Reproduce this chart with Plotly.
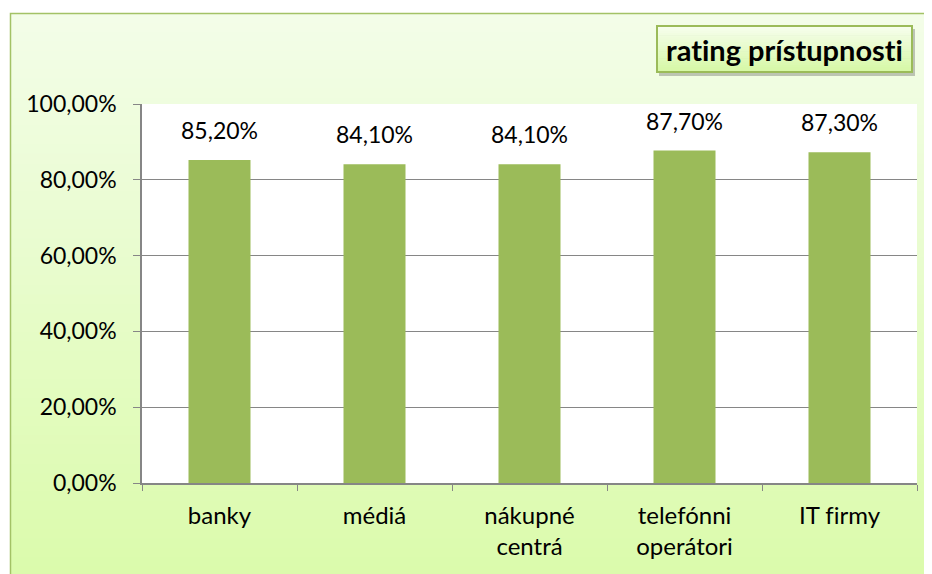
import plotly.graph_objects as go

categories = ["banky", "médiá", "nákupné<br>centrá", "telefónni<br>operátori", "IT firmy"]
values = [0.852, 0.841, 0.841, 0.877, 0.873]
y_ticks = [0, 0.2, 0.4, 0.6, 0.8, 1.0]
title_text = "rating prístupnosti"

ZWNJ = "\u200c"  # prevents font ligatures (fi, ti) so glyphs render separately


def no_liga(s):
    return s.replace("fi", "f" + ZWNJ + "i").replace("ti", "t" + ZWNJ + "i")


OFF = 8  # browser body margin
W, H = 932 - OFF, 574 - OFF
L, R, T, B = 142 - OFF, 15, 104 - OFF, 91
pw, ph = W - L - R, H - T - B

def px_x(x):
    return (x - OFF - L) / pw

def px_y(y):
    return (H - B - (y - OFF)) / ph

def mix(c1, c2, t):
    return "rgb(%d,%d,%d)" % tuple(round(a + (b - a) * t) for a, b in zip(c1, c2))

shapes = []
# gradient chart background
top_c, bot_c = (243, 253, 232), (219, 251, 172)
n = 60
y0p, y1p = 13, 576
for i in range(n):
    ya = y0p + (y1p - y0p) * i / n
    yb = y0p + (y1p - y0p) * (i + 1) / n + 1
    shapes.append(dict(type="rect", xref="paper", yref="paper", layer="below",
                       x0=px_x(10), x1=px_x(934), y0=px_y(yb), y1=px_y(ya),
                       fillcolor=mix(top_c, bot_c, i / (n - 1)), line=dict(width=0)))
# frame border
shapes.append(dict(type="path", xref="paper", yref="paper", layer="below",
                   path="M %f %f L %f %f L %f %f" % (px_x(10.5), px_y(576), px_x(10.5), px_y(13.5), px_x(934), px_y(13.5)),
                   line=dict(color="#a3c266", width=1.5)))
# plot area white
shapes.append(dict(type="rect", xref="paper", yref="paper", layer="below",
                   x0=0, x1=1, y0=0, y1=1, fillcolor="white", line=dict(width=0)))
# title box shadow
bx0, bx1, by0, by1 = 657, 912, 26, 72
shapes.append(dict(type="rect", xref="paper", yref="paper", layer="above",
                   x0=px_x(bx0 + 2), x1=px_x(bx1 + 3), y0=px_y(by1 + 4), y1=px_y(by0 + 3),
                   fillcolor="rgba(90,90,90,0.35)", line=dict(width=0)))
# title box gradient
tb_top, tb_bot = (246, 254, 236), (214, 248, 166)
m = 20
for i in range(m):
    ya = by0 + (by1 - by0) * i / m
    yb = by0 + (by1 - by0) * (i + 1) / m + 0.5
    shapes.append(dict(type="rect", xref="paper", yref="paper", layer="above",
                       x0=px_x(bx0), x1=px_x(bx1), y0=px_y(yb), y1=px_y(ya),
                       fillcolor=mix(tb_top, tb_bot, i / (m - 1)), line=dict(width=0)))
shapes.append(dict(type="rect", xref="paper", yref="paper", layer="above",
                   x0=px_x(bx0), x1=px_x(bx1), y0=px_y(by1), y1=px_y(by0),
                   fillcolor="rgba(0,0,0,0)", line=dict(color="#9bbb59", width=2)))

fig = go.Figure()
fig.add_trace(go.Bar(x=categories, y=values, marker=dict(color="#9bbb59", line=dict(width=0)),
                     width=0.4, hoverinfo="skip"))

annotations = []
for c, v in zip(categories, values):
    annotations.append(dict(x=c, y=v, xref="x", yref="y", text=("%.2f%%" % (v * 100)).replace(".", ","),
                            showarrow=False, yanchor="bottom", yshift=14,
                            font=dict(family="Lato", size=23, color="black")))
annotations.append(dict(x=px_x((bx0 + bx1) / 2), y=px_y((by0 + by1) / 2), xref="paper", yref="paper",
                        text="<b>" + no_liga(title_text) + "</b>", showarrow=False, xanchor="center", yanchor="middle",
                        font=dict(family="Lato", size=29, color="black")))

fig.update_layout(
    width=W, height=H,
    margin=dict(l=L, r=R, t=T, b=B, pad=0),
    paper_bgcolor="white", plot_bgcolor="rgba(0,0,0,0)",
    separators=", ",
    showlegend=False,
    shapes=shapes, annotations=annotations,
    bargap=0.6,
    font=dict(family="Lato", size=23, color="black"),
)
fig.update_xaxes(showgrid=False, showline=True, linecolor="#868686", linewidth=1.5,
                 ticks="outside", tickson="boundaries", ticklen=6, tickcolor="#868686",
                 ticklabelstandoff=10, tickmode="array", tickvals=categories,
                 ticktext=[no_liga(c) for c in categories],
                 tickfont=dict(family="Lato", size=24, color="black"), fixedrange=True)
fig.update_yaxes(range=[0, 1], tickvals=y_ticks, tickformat=".2%", showgrid=True,
                 gridcolor="#868686", gridwidth=1, showline=True, linecolor="#868686", linewidth=1.5,
                 ticks="outside", ticklen=7, tickcolor="#868686", ticklabelstandoff=12,
                 zeroline=False, tickfont=dict(family="Lato", size=23, color="black"), fixedrange=True)

fig.write_html("out.html", config={"displayModeBar": False})
